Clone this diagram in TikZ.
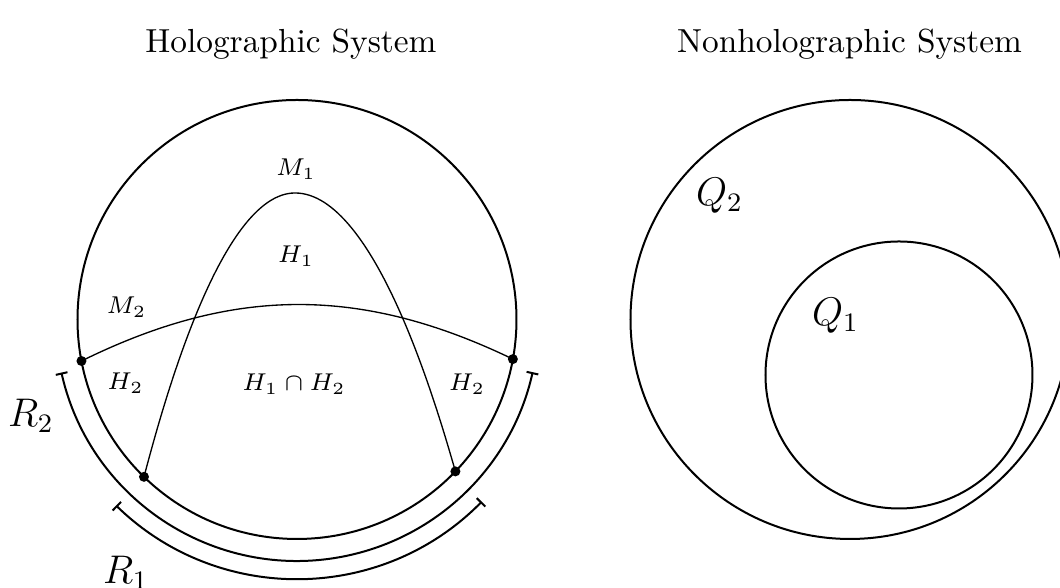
\RequirePackage{fix-cm}
\documentclass[tikz,border=0pt]{standalone}
\usetikzlibrary{arrows.meta}
\begin{document}
\begin{tikzpicture}[x=0.3pt,y=0.3pt,
  bndline/.style={line width=0.6pt},
  curveline/.style={line width=0.4pt},
  spanarc/.style={line width=0.6pt,{Bar[width=3.6pt]}-{Bar[width=3.6pt]}},
  smalllbl/.style={inner sep=0pt,font=\fontsize{7.3}{9}\selectfont},
  biglbl/.style={inner sep=0pt,font=\fontsize{12}{14}\selectfont},
  titlelbl/.style={inner sep=0pt,font=\fontsize{10}{12}\selectfont},
  dotfill/.style={fill=black}]
\clip (0,0) rectangle (1060,588);
\useasboundingbox (0,0) rectangle (1060,588);
% titles
\node[titlelbl] (t1) at (291,544) {Holographic System};
\node[titlelbl] (t2) at (849.5,544) {Nonholographic System};
% left system
\coordinate (L) at (297,268.5);
\draw[bndline] (L) circle[radius=219.5];
\coordinate (A) at ([shift={(190.9:219.5)}]L);
\coordinate (B) at ([shift={(349.6:219.5)}]L);
\coordinate (C) at ([shift={(225.8:219.5)}]L);
\coordinate (D) at ([shift={(316.2:219.5)}]L);
\coordinate (V) at (295,395);
\draw[curveline] (A) to[bend left=26] (B);
\draw[curveline] (C) parabola bend (V) (D);
\foreach \p in {A,B,C,D} \fill[dotfill] (\p) circle[radius=5];
\draw[spanarc] ([shift={(192.7:241.5)}]L) arc[start angle=192.7,end angle=347.4,radius=241.5];
\draw[spanarc] ([shift={(225.8:259.5)}]L) arc[start angle=225.8,end angle=315.4,radius=259.5];
\node[smalllbl] (m1) at (296,419) {$M_1$};
\node[smalllbl] (h1) at (296,332) {$H_1$};
\node[smalllbl] (m2) at (126.5,281) {$M_2$};
\node[smalllbl] (h2l) at (125.5,205) {$H_2$};
\node[smalllbl] (h12) at (294,204) {$H_1\cap H_2$};
\node[smalllbl] (h2r) at (467,204) {$H_2$};
\node[biglbl] (r2) at (31,172) {$R_2$};
\node[biglbl] (r1) at (126,15) {$R_1$};
% right system
\coordinate (Rc) at (850,268.5);
\draw[bndline] (Rc) circle[radius=219.5];
\coordinate (Sc) at (899,213);
\draw[bndline] (Sc) circle[radius=133.5];
\node[biglbl] (q2) at (719.5,392) {$Q_2$};
\node[biglbl] (q1) at (835.5,272) {$Q_1$};
\end{tikzpicture}
\end{document}
